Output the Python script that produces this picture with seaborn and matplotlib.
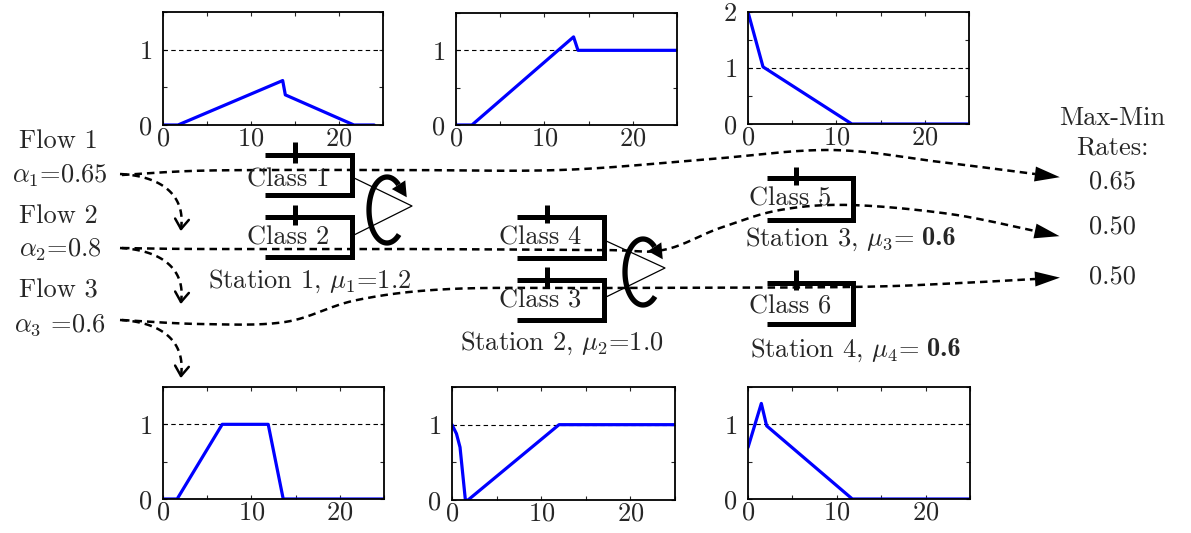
import numpy as np
import matplotlib
matplotlib.use("Agg")
import matplotlib.pyplot as plt
from matplotlib.ticker import MultipleLocator
import seaborn as sns

# fluid model trajectories (time, queue level)
t_q1 = [0, 1.7, 13.6, 13.9, 21.7, 24.0]
q_q1 = [0, 0, 0.59, 0.40, 0, 0]
t_q2 = [0, 1.8, 13.3, 13.8, 25]
q_q2 = [0, 0, 1.18, 1.0, 1.0]
t_q3 = [0, 1.7, 11.75, 25]
q_q3 = [2.0, 1.02, 0, 0]
t_q4 = [0, 1.6, 6.7, 11.9, 13.6, 25]
q_q4 = [0, 0, 1.0, 1.0, 0, 0]
t_q5 = [0, 0.5, 0.9, 1.5, 1.8, 12.0, 25]
q_q5 = [1.0, 0.88, 0.70, 0, 0, 1.0, 1.0]
t_q6 = [0, 1.5, 2.1, 11.75, 25]
q_q6 = [0.69, 1.28, 0.98, 0, 0]

panel_t = [t_q1, t_q2, t_q3, t_q4, t_q5, t_q6]
panel_q = [q_q1, q_q2, q_q3, q_q4, q_q5, q_q6]
panel_ymax = [1.5, 1.5, 2, 1.5, 1.5, 1.5]
panel_yticks = [[0, 1], [0, 1], [0, 1, 2], [0, 1], [0, 1], [0, 1]]
xticks = [0, 10, 20]

flow_names = ["Flow 1", "Flow 2", "Flow 3"]
flow_alpha = [r"$\alpha_1$=0.65", r"$\alpha_2$=0.8", r"$\alpha_3$ =0.6"]
maxmin_rates = ["0.65", "0.50", "0.50"]
class_names = ["Class 1", "Class 2", "Class 4", "Class 3", "Class 5", "Class 6"]
station_names = [r"Station 1, $\mu_1$=1.2", r"Station 2, $\mu_2$=1.0",
                 r"Station 3, $\mu_3$=", r"Station 4, $\mu_4$="]
station_bold = ["", "", "0.6", "0.6"]

sns.set_style("ticks")
plt.rcParams["font.family"] = ["cmr10", "DejaVu Serif"]
plt.rcParams["mathtext.fontset"] = "cm"
plt.rcParams["axes.formatter.use_mathtext"] = True
FS = 19

W, H = 1191, 533
fig = plt.figure(figsize=(W / 100, H / 100), dpi=100)

# panel boxes in pixels: left, top, right, bottom
boxes = [(163, 12, 383, 125), (456, 13, 677, 125), (748, 12, 969, 124),
         (163, 387, 384, 499), (452, 387, 675, 500), (748, 387, 970, 499)]

for i, (l, t, r, b) in enumerate(boxes):
    ax = fig.add_axes([l / W, 1 - b / H, (r - l) / W, (b - t) / H])
    ax.axhline(1, color="k", lw=0.8, ls=(0, (4, 3)))
    sns.lineplot(x=panel_t[i], y=panel_q[i], ax=ax, color="#0000ff", lw=2.3,
                 sort=False, estimator=None)
    ax.set_xlim(0, 25)
    ax.set_ylim(0, panel_ymax[i])
    ax.set_xticks(xticks)
    ax.set_yticks(panel_yticks[i])
    ax.xaxis.set_minor_locator(MultipleLocator(5))
    ax.yaxis.set_minor_locator(MultipleLocator(0.5))
    ax.tick_params(which="both", direction="in", top=True, right=True,
                   length=3, width=0.8, labelsize=FS)
    ax.tick_params(axis="x", pad=1)
    ax.tick_params(axis="y", pad=8)
    for s in ax.spines.values():
        s.set_linewidth(1.3)
        s.set_color("k")


# overlay in pixel coordinates for the network diagram
ov = fig.add_axes([0, 0, 1, 1], zorder=-1)
ov.set_xlim(0, W)
ov.set_ylim(H, 0)
ov.axis("off")


def smooth(pts, n=30):
    p = np.asarray(pts, float)
    p = np.vstack([p[0], p, p[-1]])
    out = []
    tt = np.linspace(0, 1, n, endpoint=False)[:, None]
    for i in range(1, len(p) - 2):
        p0, p1, p2, p3 = p[i - 1], p[i], p[i + 1], p[i + 2]
        out.append(0.5 * (2 * p1 + (-p0 + p2) * tt + (2 * p0 - 5 * p1 + 4 * p2 - p3) * tt ** 2
                          + (-p0 + 3 * p1 - 3 * p2 + p3) * tt ** 3))
    out.append(p[-2][None])
    return np.vstack(out)


def bezier(p0, p1, p2, p3, n=40):
    t = np.linspace(0, 1, n)[:, None]
    p0, p1, p2, p3 = map(np.asarray, (p0, p1, p2, p3))
    return (1 - t) ** 3 * p0 + 3 * (1 - t) ** 2 * t * p1 + 3 * (1 - t) * t ** 2 * p2 + t ** 3 * p3


DASH = (0, (3, 2))

flow_paths = [
    [(122, 175), (190, 171), (270, 170), (400, 170), (560, 170), (700, 160),
     (830, 150), (940, 162), (1035, 174)],
    [(122, 248), (200, 249), (400, 249), (600, 250), (663, 250), (720, 228),
     (780, 210), (850, 205), (950, 214), (1035, 231)],
    [(122, 320), (200, 324), (285, 322), (357, 300), (450, 289), (600, 288),
     (850, 287), (960, 283), (1035, 279)],
]
for pts in flow_paths:
    c = smooth(pts)
    ov.plot(c[:, 0], c[:, 1], color="k", lw=1.8, ls=DASH)
    d = c[-1] - c[-4]
    d = d / np.hypot(*d)
    nrm = np.array([-d[1], d[0]])
    tip = c[-1] + d * 25
    tri = np.array([tip, c[-1] + nrm * 7.5, c[-1] - nrm * 7.5])
    ov.fill(tri[:, 0], tri[:, 1], color="k", lw=0)

# curved dashed arrows dropping from each flow to its panel
for y0, ytip in [(174, 229), (248, 302), (320, 376)]:
    c = bezier((120, y0), (160, y0 + 2), (186, y0 + 20), (181, ytip))
    ov.plot(c[:, 0], c[:, 1], color="k", lw=1.8, ls=DASH)
    d = c[-1] - c[-3]
    d = d / np.hypot(*d)
    for ang in (35, -35):
        a = np.radians(ang)
        rd = np.array([d[0] * np.cos(a) - d[1] * np.sin(a), d[0] * np.sin(a) + d[1] * np.cos(a)])
        arm = c[-1] - rd * 12
        ov.plot([arm[0], c[-1][0]], [arm[1], c[-1][1]], color="k", lw=1.8)

# queue buffers: x0, x1, top, bottom, tick x, tick top, tick bottom
buffers = [(265, 352, 155, 195, 295, 142, 163), (265, 352, 217, 257, 295, 205, 225),
           (517, 604, 217, 258, 547, 205, 223), (517, 604, 280, 320, 547, 267, 287),
           (767, 853, 178, 220, 796, 167, 185), (767, 853, 283, 324, 796, 270, 290)]
class_pos = [(288, 180), (288, 238), (540, 238), (540, 301), (790, 199), (790, 307)]
for (x0, x1, tp, bt, tx, t0, t1), name, (cx, cy) in zip(buffers, class_names, class_pos):
    ov.plot([x0, x1, x1, x0], [tp, tp, bt, bt], color="k", lw=3.6,
            solid_joinstyle="miter", solid_capstyle="butt")
    ov.plot([tx, tx], [t0, t1], color="k", lw=3.6, solid_capstyle="butt")
    ov.text(cx, cy, name, fontsize=FS, ha="center", va="center")

# servers: triangle lines and rotating arrows
for (xb, ya, yb, xt, yt), (cx, cy) in zip([(352, 177, 236, 412, 206), (604, 240, 298, 665, 268)],
                                          [(387, 210), (643, 272)]):
    ov.plot([xb, xt, xb], [ya, yt, yb], color="k", lw=0.9)
    rx, ry = 18, 33
    th = np.radians(np.linspace(312, 50, 80))
    ov.plot(cx + rx * np.cos(th), cy - ry * np.sin(th), color="k", lw=3.8, solid_capstyle="butt")
    a = np.radians(50)
    base = np.array([cx + rx * np.cos(a), cy - ry * np.sin(a)])
    d = np.array([rx * np.sin(a), ry * np.cos(a)])
    d = d / np.hypot(*d)
    nrm = np.array([-d[1], d[0]])
    tip = base + d * 15
    tri = np.array([tip, base + nrm * 8, base - nrm * 8])
    ov.fill(tri[:, 0], tri[:, 1], color="k", lw=0)

# station labels; the bold service rates are drawn right after the plain part
renderer = fig.canvas.get_renderer()
for (x, y), s, bold in zip([(208, 278), (460, 340), (745, 236), (750, 347)],
                           station_names, station_bold):
    t = ov.text(x, y, s, fontsize=FS, ha="left", va="center_baseline")
    if bold:
        bb = t.get_window_extent(renderer)
        ov.text(bb.x1 + 8, y, bold, fontsize=FS, ha="left", va="center_baseline",
                family=["cmb10", "DejaVu Serif"], fontweight="bold")

for i in range(3):
    ov.text(58, [141, 216, 291][i], flow_names[i], fontsize=FS, ha="center", va="center")
    ov.text(60, [176, 250, 325][i], flow_alpha[i], fontsize=FS, ha="center", va="center")
    ov.text(1112, [182, 227, 277][i], maxmin_rates[i], fontsize=FS, ha="center", va="center")

ov.text(1112, 118, "Max-Min", fontsize=FS, ha="center", va="center")
ov.text(1112, 148, "Rates:", fontsize=FS, ha="center", va="center")

fig.savefig("out.png", dpi=100)
